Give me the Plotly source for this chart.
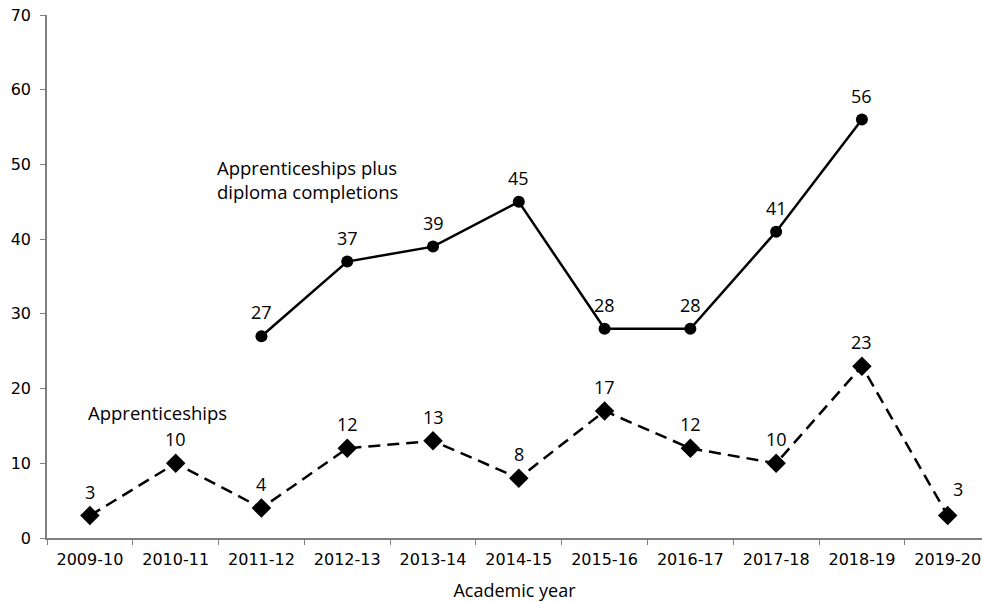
import plotly.graph_objects as go

years = ["2009-10", "2010-11", "2011-12", "2012-13", "2013-14", "2014-15",
         "2015-16", "2016-17", "2017-18", "2018-19", "2019-20"]
plus_years = ["2011-12", "2012-13", "2013-14", "2014-15", "2015-16",
              "2016-17", "2017-18", "2018-19"]
plus_values = [27, 37, 39, 45, 28, 28, 41, 56]
appr_values = [3, 10, 4, 12, 13, 8, 17, 12, 10, 23, 3]
y_ticks = [0, 10, 20, 30, 40, 50, 60, 70]

TICK_FONT = "DejaVu Sans"
LABEL_FONT = "Open Sans"

fig = go.Figure()
fig.add_trace(go.Scatter(
    x=plus_years, y=plus_values, mode="lines+markers",
    line=dict(color="black", width=2.5),
    marker=dict(symbol="circle", size=12, color="black"),
    showlegend=False, cliponaxis=False, hoverinfo="skip"))
fig.add_trace(go.Scatter(
    x=years, y=appr_values, mode="lines+markers",
    line=dict(color="black", width=2.5, dash="12px,7px"),
    marker=dict(symbol="diamond", size=15, color="black"),
    showlegend=False, cliponaxis=False, hoverinfo="skip"))

label_font = dict(family=LABEL_FONT, size=18, color="black")
for xv, yv in zip(plus_years, plus_values):
    fig.add_annotation(x=xv, y=yv, text=str(yv), showarrow=False,
                       yshift=24, xanchor="center", yanchor="middle",
                       font=label_font)
for i, (xv, yv) in enumerate(zip(years, appr_values)):
    last = i == len(years) - 1
    fig.add_annotation(x=xv, y=yv, text=str(yv), showarrow=False,
                       xshift=10 if last else 0, yshift=27 if last else 24,
                       xanchor="center", yanchor="middle", font=label_font)

fig.add_annotation(x=1.46, y=48.0, xref="x", yref="y",
                   text="Apprenticeships plus<br>diploma completions",
                   showarrow=False, xanchor="left", yanchor="middle",
                   align="left", font=dict(family=LABEL_FONT, size=18.5, color="black"))
fig.add_annotation(x=-0.05, y=16.85, xref="x", yref="y",
                   text="Apprenticeships",
                   showarrow=False, xanchor="left", yanchor="middle",
                   font=dict(family=LABEL_FONT, size=18.5, color="black"))

fig.update_layout(
    width=982, height=602,
    margin=dict(l=47, r=0, t=15, b=64),
    plot_bgcolor="white", paper_bgcolor="white",
    font=dict(family=TICK_FONT, size=16, color="black"),
    xaxis=dict(
        type="category", categoryorder="array", categoryarray=years,
        range=[-0.5, 10.4], showgrid=False, showline=True, automargin=False,
        linecolor="#7f7f7f", linewidth=1.5, ticks="outside",
        tickson="boundaries", ticklen=5, tickcolor="#7f7f7f",
        ticklabelstandoff=6, ticklabeloverflow="allow",
        tickfont=dict(family=TICK_FONT, size=16, color="black"),
        title=dict(text="Academic year", standoff=18,
                   font=dict(family=LABEL_FONT, size=18, color="black")),
    ),
    yaxis=dict(
        range=[0, 70], tickvals=y_ticks, showgrid=False, zeroline=False,
        showline=True, linecolor="#7f7f7f", linewidth=1.5, automargin=False,
        ticks="outside", ticklen=5, tickcolor="#7f7f7f",
        ticklabelstandoff=6, ticklabeloverflow="allow",
        tickfont=dict(family=TICK_FONT, size=16, color="black"),
    ),
)

fig.write_html(
    "out.html",
    config={"displayModeBar": False},
    post_script="document.body.style.margin='0';document.body.style.overflow='hidden';",
)
